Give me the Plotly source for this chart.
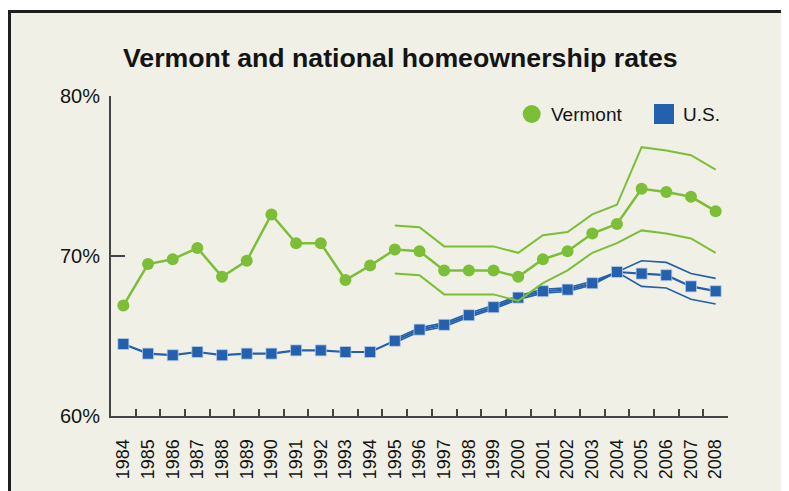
import plotly.graph_objects as go

# ---- data ----
years = [str(y) for y in range(1984, 2009)]
band_years = [str(y) for y in range(1995, 2009)]

vermont = [66.9, 69.5, 69.8, 70.5, 68.7, 69.7, 72.6, 70.8, 70.8, 68.5, 69.4, 70.4, 70.3,
           69.1, 69.1, 69.1, 68.7, 69.8, 70.3, 71.4, 72.0, 74.2, 74.0, 73.7, 72.8]
vermont_upper = [71.9, 71.8, 70.6, 70.6, 70.6, 70.2, 71.3, 71.5, 72.6, 73.2, 76.8, 76.6, 76.3, 75.4]
vermont_lower = [68.9, 68.8, 67.6, 67.6, 67.6, 67.2, 68.3, 69.1, 70.2, 70.8, 71.6, 71.4, 71.1, 70.2]

us = [64.5, 63.9, 63.8, 64.0, 63.8, 63.9, 63.9, 64.1, 64.1, 64.0, 64.0, 64.7, 65.4,
      65.7, 66.3, 66.8, 67.4, 67.8, 67.9, 68.3, 69.0, 68.9, 68.8, 68.1, 67.8]
us_upper = [64.82, 65.52, 65.82, 66.42, 66.92, 67.52, 67.92, 68.02, 68.42, 69.0, 69.7, 69.6, 68.9, 68.6]
us_lower = [64.58, 65.28, 65.58, 66.18, 66.68, 67.28, 67.68, 67.78, 68.18, 69.0, 68.1, 68.0, 67.3, 67.0]

y_ticks = [60, 70, 80]
y_tick_labels = ["60%", "70%", "80%"]

title_text = "Vermont and national homeownership rates"
series_names = ["Vermont", "U.S."]

# ---- style ----
GREEN = "#7DBE37"
BLUE = "#2360AE"
BG = "#F0F0E6"
AXIS = "#444444"
TXT = "#141414"
FONT = "Liberation Sans, Arial, Helvetica, sans-serif"

fig = go.Figure()

# US bands and line
for band in (us_upper, us_lower):
    fig.add_trace(go.Scatter(x=band_years, y=band, mode="lines",
                             line=dict(color=BLUE, width=1.6), showlegend=False,
                             hoverinfo="skip"))
fig.add_trace(go.Scatter(x=years, y=us, mode="lines+markers", name=series_names[1],
                         line=dict(color=BLUE, width=2.2),
                         marker=dict(symbol="square", size=11, color=BLUE,
                                     line=dict(color="rgba(190,205,230,0.9)", width=0.8)),
                         showlegend=False))

# Vermont bands and line
for band in (vermont_upper, vermont_lower):
    fig.add_trace(go.Scatter(x=band_years, y=band, mode="lines",
                             line=dict(color=GREEN, width=2), showlegend=False,
                             hoverinfo="skip"))
fig.add_trace(go.Scatter(x=years, y=vermont, mode="lines+markers", name=series_names[0],
                         line=dict(color=GREEN, width=2.5),
                         marker=dict(symbol="circle", size=12, color=GREEN),
                         showlegend=False))

# figure geometry (page body has an 8px margin)
OFF = 8
W, H = 781, 483
L, R, T, B = 103, 61, 88, 75
pw, ph = W - L - R, H - T - B


def px(xs):  # screen x -> paper
    return (xs - OFF - L) / pw


def py(ys):  # screen y -> paper
    return (H - B - (ys - OFF)) / ph


# outer frame
fig.add_shape(type="rect", xref="paper", yref="paper",
              x0=px(9.5), x1=px(786.5), y0=py(530), y1=py(11.5),
              fillcolor=BG, line=dict(color="#1E1E1E", width=3), layer="below")

# legend (symbols + labels)
fig.add_shape(type="circle", xref="paper", yref="paper",
              xsizemode="pixel", ysizemode="pixel",
              xanchor=px(531.7), yanchor=py(114), x0=-9, x1=9, y0=-9, y1=9,
              fillcolor=GREEN, line=dict(width=0))
fig.add_shape(type="rect", xref="paper", yref="paper",
              xsizemode="pixel", ysizemode="pixel",
              xanchor=px(664), yanchor=py(114), x0=-10, x1=10, y0=-10, y1=10,
              fillcolor=BLUE, line=dict(width=0))
fig.add_annotation(text=series_names[0], xref="paper", yref="paper", x=px(549), y=py(114),
                   xanchor="left", yanchor="middle", showarrow=False,
                   font=dict(family=FONT, size=19, color=TXT))
fig.add_annotation(text=series_names[1], xref="paper", yref="paper", x=px(681), y=py(114),
                   xanchor="left", yanchor="middle", showarrow=False,
                   font=dict(family=FONT, size=19, color=TXT))

# title
fig.add_annotation(text="<b>" + title_text + "</b>", xref="paper", yref="paper",
                   x=px(400.5), y=py(58), xanchor="center", yanchor="middle",
                   showarrow=False, font=dict(family=FONT, size=26.7, color=TXT))

fig.update_layout(
    width=W, height=H,
    margin=dict(l=L, r=R, t=T, b=B, autoexpand=False),
    paper_bgcolor="white",
    plot_bgcolor="rgba(0,0,0,0)",
    showlegend=False,
    font=dict(family=FONT, color=TXT),
)

fig.update_xaxes(
    type="category", categoryorder="array", categoryarray=years,
    range=[-0.5, len(years) - 0.5],
    showgrid=False, zeroline=False,
    showline=True, linecolor=AXIS, linewidth=2,
    ticks="inside", tickson="boundaries", ticklen=7, tickwidth=1.6, tickcolor=AXIS,
    tickangle=-90, tickfont=dict(family=FONT, size=18, color=TXT),
    ticklabelstandoff=14,
)
fig.update_yaxes(
    range=[60, 80], tickvals=y_ticks, ticktext=y_tick_labels,
    showgrid=False, zeroline=False,
    showline=True, linecolor=AXIS, linewidth=2,
    ticks="inside", ticklen=14, tickwidth=2, tickcolor=AXIS,
    tickfont=dict(family=FONT, size=20, color=TXT),
    ticklabelstandoff=5,
)

fig.write_html("out.html")
